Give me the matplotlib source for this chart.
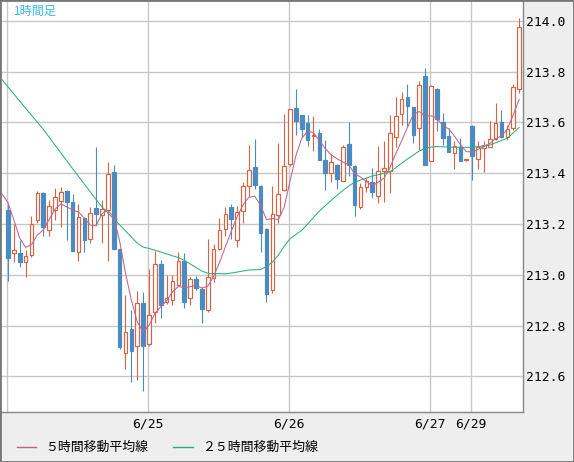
import numpy as np
import matplotlib
matplotlib.use("Agg")
import matplotlib.pyplot as plt
from matplotlib.lines import Line2D
from matplotlib.patches import Rectangle

plt.rcParams['font.family'] = ['Noto Sans CJK JP', 'DejaVu Sans']

# hourly candles (open, high, low, close)
opens = [213.256, 213.086, 213.084, 213.051, 213.077, 213.214, 213.324, 213.178, 213.255, 213.292,
         213.331, 213.288, 213.090, 213.225, 213.141, 213.265, 213.235, 213.256, 213.403, 213.103,
         212.694, 212.788, 212.720, 212.890, 212.726, 212.854, 213.041, 212.893, 212.901, 212.960,
         213.055, 212.908, 212.984, 212.944, 212.862, 212.987, 213.101, 213.180, 213.268, 213.138,
         213.250, 213.349, 213.424, 213.351, 213.182, 212.942, 213.234, 213.333, 213.437, 213.655,
         213.628, 213.596, 213.547, 213.559, 213.454, 213.401, 213.434, 213.371, 213.517, 213.430,
         213.266, 213.347, 213.364, 213.311, 213.409, 213.407, 213.542, 213.632, 213.699, 213.659,
         213.577, 213.783, 213.450, 213.732, 213.603, 213.547, 213.481, 213.502, 213.451, 213.586,
         213.455, 213.498, 213.505, 213.534, 213.601, 213.544, 213.577, 213.731]
highs = [213.279, 213.201, 213.139, 213.097, 213.231, 213.331, 213.326, 213.293, 213.341, 213.344,
         213.333, 213.319, 213.280, 213.227, 213.269, 213.505, 213.295, 213.443, 213.433, 213.103,
         212.919, 212.860, 212.937, 212.933, 213.021, 213.093, 213.060, 213.001, 213.000, 213.089,
         213.086, 212.993, 212.996, 212.954, 213.141, 213.121, 213.224, 213.266, 213.279, 213.270,
         213.364, 213.512, 213.533, 213.353, 213.184, 213.349, 213.520, 213.632, 213.653, 213.730,
         213.630, 213.628, 213.625, 213.575, 213.529, 213.474, 213.436, 213.513, 213.601, 213.432,
         213.361, 213.380, 213.420, 213.508, 213.527, 213.630, 213.699, 213.718, 213.752, 213.661,
         213.765, 213.814, 213.746, 213.735, 213.636, 213.577, 213.525, 213.538, 213.453, 213.588,
         213.525, 213.525, 213.604, 213.678, 213.649, 213.589, 213.752, 214.011]
lows = [212.977, 213.050, 213.030, 212.992, 213.069, 213.204, 213.152, 213.152, 213.217, 213.187,
        213.139, 213.093, 213.056, 213.090, 213.126, 213.197, 213.126, 213.054, 213.102, 212.707,
        212.631, 212.580, 212.587, 212.544, 212.718, 212.809, 212.830, 212.886, 212.880, 212.956,
        212.868, 212.882, 212.941, 212.809, 212.854, 212.970, 213.099, 213.151, 213.140, 213.108,
        213.204, 213.309, 213.336, 213.088, 212.895, 212.928, 213.204, 213.331, 213.430, 213.549,
        213.543, 213.507, 213.487, 213.451, 213.333, 213.364, 213.336, 213.369, 213.388, 213.230,
        213.258, 213.328, 213.301, 213.282, 213.286, 213.324, 213.505, 213.590, 213.586, 213.518,
        213.492, 213.433, 213.448, 213.568, 213.512, 213.485, 213.416, 213.450, 213.450, 213.374,
        213.416, 213.403, 213.503, 213.531, 213.538, 213.531, 213.571, 213.715]
closes = [213.068, 213.099, 213.051, 213.075, 213.201, 213.324, 213.187, 213.272, 213.306, 213.327,
          213.285, 213.093, 213.227, 213.136, 213.243, 213.238, 213.260, 213.397, 213.102, 212.716,
          212.773, 212.701, 212.890, 212.720, 212.843, 213.043, 212.880, 212.910, 212.977, 213.056,
          212.895, 212.984, 212.950, 212.865, 212.991, 213.101, 213.176, 213.239, 213.220, 213.247,
          213.351, 213.414, 213.355, 213.163, 212.926, 213.241, 213.318, 213.430, 213.651, 213.605,
          213.576, 213.530, 213.550, 213.451, 213.401, 213.445, 213.379, 213.504, 213.434, 213.274,
          213.345, 213.368, 213.325, 213.410, 213.420, 213.558, 213.627, 213.691, 213.663, 213.551,
          213.748, 213.433, 213.744, 213.613, 213.540, 213.485, 213.508, 213.450, 213.452, 213.466,
          213.505, 213.512, 213.534, 213.597, 213.544, 213.573, 213.741, 213.975]

# moving averages, first value belongs to the hour before the first candle
ma5 = [213.318, 213.284, 213.216, 213.145, 213.108, 213.119, 213.157, 213.176, 213.218, 213.258,
       213.279, 213.268, 213.255, 213.248, 213.223, 213.196, 213.193, 213.241, 213.255, 213.227,
       213.133, 213.007, 212.900, 212.815, 212.775, 212.801, 212.847, 212.875, 212.898, 212.933,
       212.954, 212.950, 212.953, 212.959, 212.948, 212.955, 212.994, 213.048, 213.110, 213.171,
       213.229, 213.275, 213.306, 213.309, 213.274, 213.217, 213.222, 213.217, 213.266, 213.368,
       213.469, 213.538, 213.565, 213.560, 213.528, 213.497, 213.473, 213.457, 213.444, 213.433,
       213.398, 213.385, 213.367, 213.351, 213.364, 213.381, 213.421, 213.477, 213.527, 213.581,
       213.631, 213.643, 213.624, 213.626, 213.618, 213.587, 213.575, 213.546, 213.513, 213.485,
       213.484, 213.494, 213.505, 213.517, 213.536, 213.547, 213.574, 213.630, 213.690]
ma25 = [213.768, 213.740, 213.712, 213.684, 213.656, 213.628, 213.601, 213.573, 213.542, 213.511,
        213.480, 213.449, 213.418, 213.388, 213.357, 213.327, 213.296, 213.268, 213.244, 213.220,
        213.197, 213.173, 213.149, 213.125, 213.109, 213.104, 213.097, 213.090, 213.082, 213.075,
        213.068, 213.057, 213.043, 213.029, 213.015, 213.006, 213.005, 213.005, 213.004, 213.007,
        213.011, 213.015, 213.019, 213.020, 213.021, 213.033, 213.050, 213.077, 213.112, 213.142,
        213.159, 213.175, 213.200, 213.226, 213.251, 213.272, 213.293, 213.313, 213.332, 213.350,
        213.364, 213.373, 213.381, 213.389, 213.394, 213.400, 213.405, 213.422, 213.439, 213.456,
        213.472, 213.487, 213.498, 213.503, 213.505, 213.504, 213.503, 213.502, 213.502, 213.502,
        213.502, 213.505, 213.508, 213.511, 213.520, 213.529, 213.538, 213.559, 213.580]

date_ticks = [0, 24, 48, 72, 79]
date_labels = ['', '6/25', '6/26', '6/27', '6/29']
price_ticks = [212.6, 212.8, 213.0, 213.2, 213.4, 213.6, 213.8, 214.0]

UP = '#d9633e'
DOWN = '#4b8bbf'

W, H = 574, 462
fig = plt.figure(figsize=(W / 100, H / 100), dpi=100)
fig.patch.set_facecolor('#eeeeee')
ax = fig.add_axes([1 / W, 50 / H, 522 / W, 411 / H])
ax.set_facecolor('white')

o = np.array(opens); h = np.array(highs); l = np.array(lows); c = np.array(closes)
x = np.arange(len(o))
up = c >= o
col = np.where(up, UP, DOWN)

ax.vlines(x, l, h, colors=col, lw=0.8, zorder=2)
body_lo = np.minimum(o, c)
body_h = np.maximum(np.abs(c - o), 0.004)
ax.bar(x[up], body_h[up], bottom=body_lo[up], width=0.62, facecolor='white',
       edgecolor=UP, lw=0.85, zorder=3)
ax.bar(x[~up], body_h[~up], bottom=body_lo[~up], width=0.62, facecolor=DOWN,
       edgecolor=DOWN, lw=0.85, zorder=3)

xm = np.arange(-1, len(o))
ax.plot(xm, ma25, color='#2bb27a', lw=0.75, zorder=4)
ax.plot(xm, ma5, color='#c0648f', lw=0.75, zorder=4)

ax.set_xlim(-1.19, 87.66)
ax.set_ylim(212.460, 214.078)
ax.set_xticks(np.array(date_ticks) - 0.17)
ax.set_xticklabels(date_labels)
ax.set_yticks(price_ticks)
ax.set_yticklabels([f'{v:.1f}' for v in price_ticks])
ax.yaxis.tick_right()
ax.grid(True, color='#c8c8c8', lw=1)
ax.set_axisbelow(True)
ax.tick_params(length=0, labelsize=9.4, labelcolor='black')
ax.tick_params(axis='y', pad=2)
ax.tick_params(axis='x', pad=4)
for lab in ax.get_xticklabels() + ax.get_yticklabels():
    lab.set_family('DejaVu Sans Mono')
for s in ['top', 'left']:
    ax.spines[s].set_visible(False)
for s in ['right', 'bottom']:
    ax.spines[s].set_color('#888888')
    ax.spines[s].set_linewidth(1)

ax.text(13 / 522, 1 - 4 / 411, '1時間足', transform=ax.transAxes, ha='left', va='top',
        fontsize=8.7, color='#3cb6e8')

# legend row
fig.add_artist(Line2D([17 / W, 36 / W], [1 - 447 / H] * 2, color='#c0648f', lw=1))
fig.text(45 / W, 1 - 447.5 / H, '５時間移動平均線', fontsize=9.3, va='center', ha='left')
fig.add_artist(Line2D([173 / W, 193 / W], [1 - 447 / H] * 2, color='#2bb27a', lw=1))
fig.text(202 / W, 1 - 447.5 / H, '２５時間移動平均線', fontsize=9.3, va='center', ha='left')

fig.add_artist(Rectangle((0, 0), 1, 1, transform=fig.transFigure, fill=False,
                         edgecolor='#777777', lw=2))

fig.savefig('out.png', dpi=100, facecolor=fig.get_facecolor())
